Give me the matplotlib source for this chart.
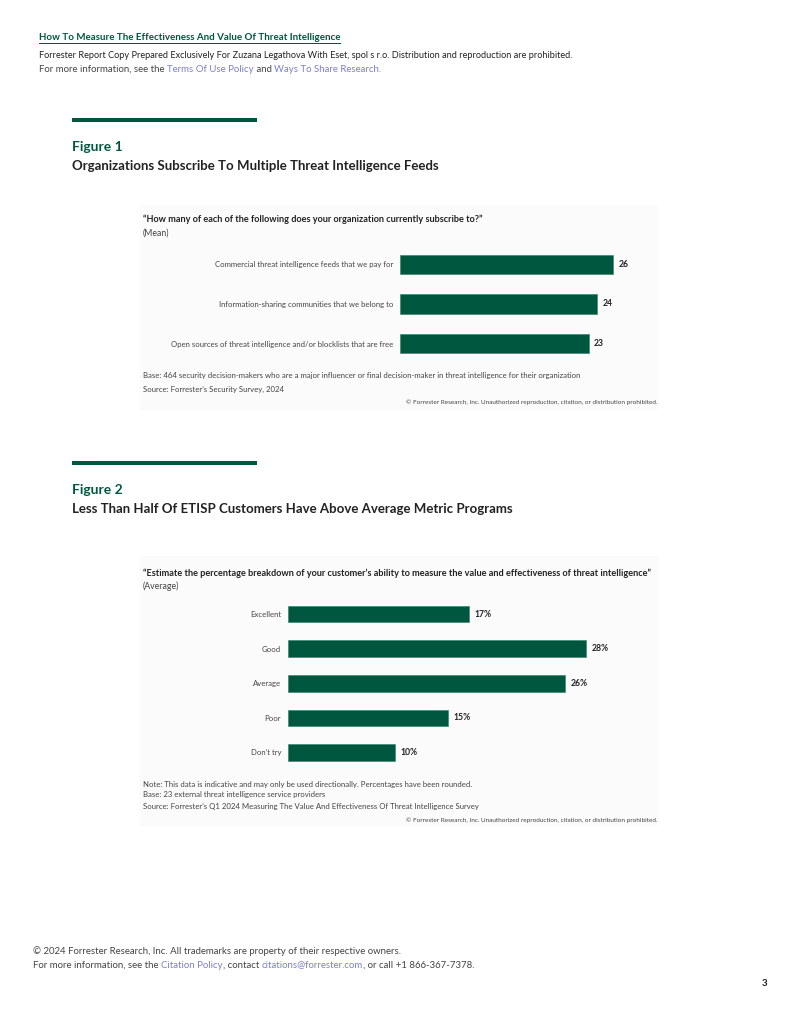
# forrester_figures.py
# Page 3 of the Forrester threat intelligence report: two bar-chart figures

import matplotlib.pyplot as plt
from matplotlib.patches import Rectangle

plt.rcParams['font.family'] = ['Lato', 'DejaVu Sans']

GREEN = '#00573f'
DARK = '#222222'
GREY = '#444444'
LINK = '#7b80c8'

W, H = 800, 1035

# --- data ---
fig1_labels = ["Commercial threat intelligence feeds that we pay for",
               "Information-sharing communities that we belong to",
               "Open sources of threat intelligence and/or blocklists that are free"]
fig1_values = [26, 24, 23]

fig2_labels = ["Excellent", "Good", "Average", "Poor", "Don\u2019t try"]
fig2_values = [17, 28, 26, 15, 10]

fig = plt.figure(figsize=(W / 100, H / 100), dpi=100)
fig.patch.set_facecolor('white')


def fx(x):
    return x / W


def fy(y):
    return 1 - y / H


def txt(x, y, s, size, color=DARK, weight='normal', ha='left'):
    return fig.text(fx(x), fy(y), s, fontsize=size, color=color,
                    fontweight=weight, ha=ha, va='center')


def segments(x, y, parts, size):
    # draw a line made of differently coloured pieces
    r = fig.canvas.get_renderer()
    for s, c in parts:
        t = txt(x, y, s, size, color=c)
        bb = t.get_window_extent(renderer=r)
        x += bb.width


def px_axes(left, top, right, bottom):
    return fig.add_axes([fx(left), fy(bottom), fx(right - left), (bottom - top) / H])


# --- page header ---
t = txt(39, 37, "How To Measure The Effectiveness And Value Of Threat Intelligence", 7.05,
        color=GREEN, weight='bold')
r = fig.canvas.get_renderer()
bb = t.get_window_extent(renderer=r)
fig.add_artist(Rectangle((fx(39), fy(44)), bb.width / W, 1.2 / H,
                         transform=fig.transFigure, color=GREEN, lw=0))
txt(39, 55, "Forrester Report Copy Prepared Exclusively For Zuzana Legathova With Eset, "
    "spol s r.o. Distribution and reproduction are prohibited.", 6.55)
segments(39, 69, [("For more information, see the ", GREY), ("Terms Of Use Policy", LINK),
                  (" and ", GREY), ("Ways To Share Research.", LINK)], 6.95)


def figure_block(top, num, title):
    fig.add_artist(Rectangle((fx(72), fy(top + 4)), fx(257 - 72), 4.5 / H,
                             transform=fig.transFigure, color=GREEN, lw=0))
    txt(72, top + 29, "Figure %d" % num, 10, color=GREEN, weight='bold')
    txt(72, top + 48, title, 9.5, color=DARK, weight='bold')


def hbars(ax, labels, values, xmax, height):
    pos = list(range(len(values)))
    ax.barh(pos, values, height=height, color=GREEN, edgecolor='#3c8a6f', linewidth=0.5)
    ax.set_xlim(0, xmax)
    ax.set_ylim(len(values) - 0.5, -0.5)
    ax.set_yticks(pos)
    ax.set_yticklabels(labels, fontsize=5.6, color=GREY)
    ax.tick_params(axis='y', length=0, pad=5)
    ax.set_xticks([])
    for s in ax.spines.values():
        s.set_visible(False)
    ax.patch.set_alpha(0)
    return pos


# --- Figure 1 ---
figure_block(118, 1, "Organizations Subscribe To Multiple Threat Intelligence Feeds")
fig.add_artist(Rectangle((fx(140), fy(410)), fx(518), 205 / H,
                         transform=fig.transFigure, color='#fbfbfb', lw=0, zorder=-1))
txt(143, 219, "\u201cHow many of each of the following does your organization currently subscribe to?\u201d",
    6.6, weight='bold')
txt(143, 233, "(Mean)", 6.3, color=GREY)

ax1 = px_axes(400, 244.75, 660, 363.25)
pos = hbars(ax1, fig1_labels, fig1_values, 260 / 8.2, 0.49)
for p, v in zip(pos, fig1_values):
    ax1.annotate(str(v), (v, p), xytext=(4, 0), textcoords='offset points',
                 va='center', ha='left', fontsize=6.2, fontweight='bold', color=DARK)

txt(143, 376, "Base: 464 security decision-makers who are a major influencer or final "
    "decision-maker in threat intelligence for their organization", 5.55, color=GREY)
txt(143, 389, "Source: Forrester\u2019s Security Survey, 2024", 5.55, color=GREY)
txt(658, 402, "\u00a9 Forrester Research, Inc. Unauthorized reproduction, citation, "
    "or distribution prohibited.", 4.6, color=GREY, ha='right')

# --- Figure 2 ---
figure_block(461, 2, "Less Than Half Of ETISP Customers Have Above Average Metric Programs")
fig.add_artist(Rectangle((fx(140), fy(826)), fx(518), 270 / H,
                         transform=fig.transFigure, color='#fbfbfb', lw=0, zorder=-1))
txt(143, 573, "\u201cEstimate the percentage breakdown of your customer\u2019s ability to measure "
    "the value and effectiveness of threat intelligence\u201d", 6.6, weight='bold')
txt(143, 586, "(Average)", 6.3, color=GREY)

ax2 = px_axes(288, 596.7, 660, 769.8)
pos = hbars(ax2, fig2_labels, fig2_values, 372 / 10.65, 0.48)
for p, v in zip(pos, fig2_values):
    ax2.annotate("%d%%" % v, (v, p), xytext=(4, 0), textcoords='offset points',
                 va='center', ha='left', fontsize=6.2, fontweight='bold', color=DARK)

txt(143, 784, "Note: This data is indicative and may only be used directionally. "
    "Percentages have been rounded.", 5.55, color=GREY)
txt(143, 795, "Base: 23 external threat intelligence service providers", 5.55, color=GREY)
txt(143, 806, "Source: Forrester\u2019s Q1 2024 Measuring The Value And Effectiveness Of "
    "Threat Intelligence Survey", 5.55, color=GREY)
txt(658, 820, "\u00a9 Forrester Research, Inc. Unauthorized reproduction, citation, "
    "or distribution prohibited.", 4.6, color=GREY, ha='right')

# --- page footer ---
txt(33, 951, "\u00a9 2024 Forrester Research, Inc. All trademarks are property of their "
    "respective owners.", 6.95, color=GREY)
segments(33, 965, [("For more information, see the ", GREY), ("Citation Policy", LINK),
                   (", contact ", GREY), ("citations@forrester.com", LINK),
                   (", or call +1 866-367-7378.", GREY)], 6.95)
txt(767, 983, "3", 7, color=DARK, weight='bold', ha='right')

fig.savefig("out.png", dpi=100, facecolor='white')
